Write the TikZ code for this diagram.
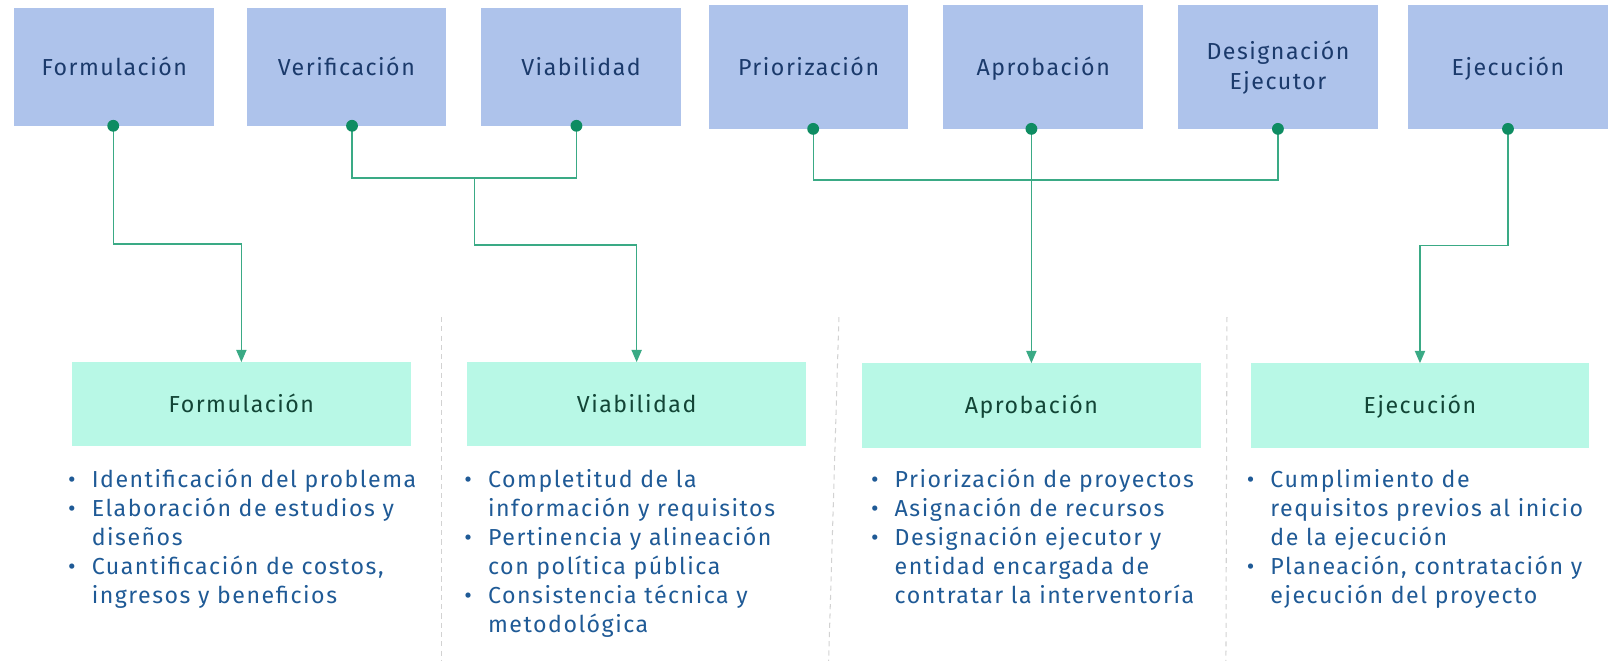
\documentclass[tikz,border=0pt]{standalone}
\usepackage{fontspec}
\setmainfont{Fira Sans}[LetterSpace=6.5]
\usetikzlibrary{arrows.meta,calc}
\definecolor{topbox}{HTML}{AEC3EB}
\definecolor{botbox}{HTML}{B8F8E6}
\definecolor{toptext}{HTML}{1B3A6B}
\definecolor{bottext}{HTML}{124536}
\definecolor{listtext}{HTML}{1F5A96}
\definecolor{connc}{HTML}{3AAA85}
\definecolor{dotc}{HTML}{0E8C62}
\definecolor{divc}{HTML}{D2D2D2}
\newcommand{\bul}{\makebox[23pt][l]{\textbullet}}
\newcommand{\cnt}{\hspace*{23pt}}
\begin{document}
\begin{tikzpicture}[x=1pt,y=-1pt,
  topstage/.style={fill=topbox, draw=none, minimum width=194pt, inner sep=0pt,
    text=toptext, font=\fontsize{22.5}{29}\selectfont, align=center},
  oneline/.style={text height=21pt, text depth=5pt},
  botstage/.style={fill=botbox, draw=none, minimum width=329pt, inner sep=0pt,
    text=bottext, font=\fontsize{22.5}{28}\selectfont, oneline},
  listnode/.style={anchor=base west, inner sep=0pt, text=listtext,
    font=\fontsize{22.5}{28}\selectfont},
  link/.style={draw=connc, line width=1.3pt},
  arrowlink/.style={link, -{Triangle[width=10pt,length=12pt]}},
  knot/.style={circle, fill=dotc, inner sep=0pt, minimum size=11.5pt},
  divider/.style={draw=divc, line width=1pt, dash pattern=on 5pt off 4pt}
]
\useasboundingbox (0,0) rectangle (1568,642);

% top stage boxes
\node[topstage, oneline, minimum height=114pt] (t1) at (111,65) {Formulación};
\node[topstage, oneline, minimum height=114pt] (t2) at (336.5,65) {Verificación};
\node[topstage, oneline, minimum height=114pt] (t3) at (564.5,65) {Viabilidad};
\node[topstage, oneline, minimum height=120pt] (t4) at (785.5,65) {Priorización};
\node[topstage, oneline, minimum height=120pt] (t5) at (1013.5,65) {Aprobación};
\node[topstage, minimum height=120pt] (t6) at (1241.5,65) {\rule{0pt}{19pt}Designación\\Ejecutor};
\node[topstage, oneline, minimum height=120pt] (t7) at (1465,65) {Ejecución};

% bottom stage boxes
\node[botstage, minimum height=81pt] (b1) at (234.5,392.5) {Formulación};
\node[botstage, minimum height=81pt] (b2) at (618.5,392.5) {Viabilidad};
\node[botstage, minimum height=82pt] (b3) at (1002,394) {Aprobación};
\node[botstage, minimum height=82pt] (b4) at (1379.5,394) {Ejecución};

% connection points
\coordinate (d1) at ([xshift=-1pt]t1.south);
\coordinate (d2) at ([xshift=5.5pt]t2.south);
\coordinate (d3) at ([xshift=-4.5pt]t3.south);
\coordinate (d4) at ([xshift=4.5pt]t4.south);
\coordinate (d5) at ([xshift=-11.5pt]t5.south);
\coordinate (d6) at (t6.south);
\coordinate (d7) at (t7.south);
\coordinate (j1) at (461,173);
\coordinate (j2) at (1002,175);

% connectors
\draw[arrowlink] (d1) -- ++(0,115) -| (b1.north);
\draw[link] (d2) |- (j1) -| (d3);
\draw[arrowlink] (j1) -- ++(0,65) -| (b2.north);
\draw[link] (d4) |- (j2) -| (d6);
\draw[arrowlink] (d5) -- (b3.north);
\draw[arrowlink] (d7) -- ++(0,113) -| (b4.north);

% dots
\foreach \d in {d1,d2,d3,d4,d5,d6,d7} \node[knot] at (\d) {};

% dividers
\draw[divider] (429,308) -- (429,642);
\draw[divider] (815,308) -- (805,642);
\draw[divider] (1192,308) -- (1191,642);

% lists
\node[listnode] (l1) at (66,474) {\begin{tabular}[t]{@{}l@{}}
\bul Identificación del problema\\
\bul Elaboración de estudios y\\
\cnt diseños\\
\bul Cuantificación de costos,\\
\cnt ingresos y beneficios
\end{tabular}};
\node[listnode] (l2) at (451,474) {\begin{tabular}[t]{@{}l@{}}
\bul Completitud de la\\
\cnt información y requisitos\\
\bul Pertinencia y alineación\\
\cnt con política pública\\
\bul Consistencia técnica y\\
\cnt metodológica
\end{tabular}};
\node[listnode] (l3) at (846,474) {\begin{tabular}[t]{@{}l@{}}
\bul Priorización de proyectos\\
\bul Asignación de recursos\\
\bul Designación ejecutor y\\
\cnt entidad encargada de\\
\cnt contratar la interventoría
\end{tabular}};
\node[listnode] (l4) at (1211,474) {\begin{tabular}[t]{@{}l@{}}
\bul Cumplimiento de\\
\cnt requisitos previos al inicio\\
\cnt de la ejecución\\
\bul Planeación, contratación y\\
\cnt ejecución del proyecto
\end{tabular}};
\end{tikzpicture}
\end{document}
